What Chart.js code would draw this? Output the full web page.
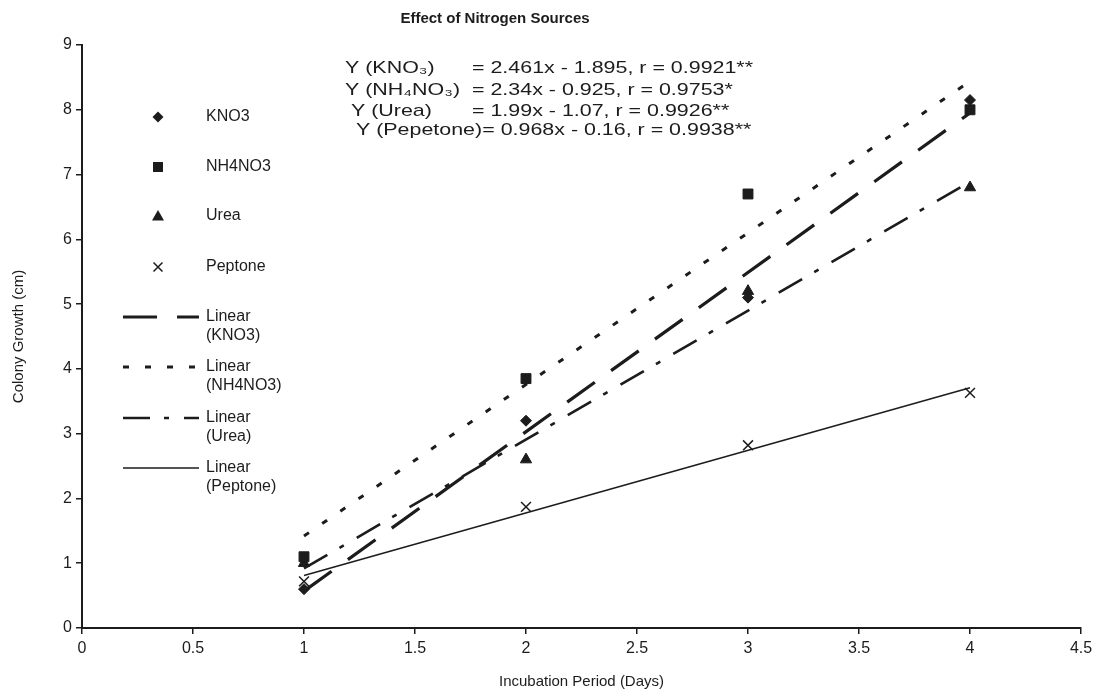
<!DOCTYPE html>
<html lang="en">
<head>
<meta charset="UTF-8">
<title>Effect of Nitrogen Sources</title>
<script src="https://cdn.jsdelivr.net/npm/chart.js"></script>
<style>
    body { margin: 0; background: #fff; }
    .chart-box { width: 1103px; height: 693px; }
</style>
</head>
<body>
<div class="chart-box"><canvas id="growthChart"></canvas></div>
<script>
// measured colony growth (cm) per incubation day
const days = [1, 2, 3, 4];
const kno3 = [0.6, 3.2, 5.1, 8.15];
const nh4no3 = [1.1, 3.85, 6.7, 8.0];
const urea = [1.0, 2.6, 5.2, 6.8];
const peptone = [0.72, 1.87, 2.82, 3.63];

// trendline ends at day 1 and day 4
const trendDays = [1, 4];
const kno3Trend = [0.57, 7.95];
const nh4no3Trend = [1.42, 8.44];
const ureaTrend = [0.92, 6.89];
const peptoneTrend = [0.81, 3.71];

const seriesNames = ['KNO3', 'NH4NO3', 'Urea', 'Peptone'];
const equationLabels = ['Y (KNO\u2083)', 'Y (NH\u2084NO\u2083)', ' Y (Urea)', ' Y (Pepetone)'];
const equationTexts = ['= 2.461x - 1.895, r = 0.9921**', '= 2.34x - 0.925, r = 0.9753*',
    '= 1.99x - 1.07, r = 0.9926**', '= 0.968x - 0.16, r = 0.9938**'];

const FONT = '"Liberation Sans", Arial, sans-serif';
const INK = '#1c1c1c';

const styles = {
    KNO3: { point: 'rectRot', radius: 5.5, dash: [34, 20], width: 3.2 },
    NH4NO3: { point: 'rect', radius: 7, dash: [6, 16], width: 3 },
    Urea: { point: 'triangle', radius: 6.5, dash: [27, 14, 5, 15], width: 2.6 },
    Peptone: { point: 'crossRot', radius: 7, dash: [], width: 1.5 }
};

const pts = (xs, ys) => xs.map((x, i) => ({ x: x, y: ys[i] }));
const valueSets = [kno3, nh4no3, urea, peptone];
const trendSets = [kno3Trend, nh4no3Trend, ureaTrend, peptoneTrend];

const datasets = [];
seriesNames.forEach((name, i) => {
    const s = styles[name];
    datasets.push({
        type: 'scatter',
        label: name,
        data: pts(days, valueSets[i]),
        pointStyle: s.point,
        pointRadius: s.radius,
        pointBorderWidth: name === 'Peptone' ? 1.5 : 1,
        backgroundColor: INK,
        borderColor: INK,
        order: 0
    });
});
seriesNames.forEach((name, i) => {
    const s = styles[name];
    datasets.push({
        type: 'line',
        label: 'Linear (' + name + ')',
        data: pts(trendDays, trendSets[i]),
        borderColor: INK,
        borderWidth: s.width,
        borderDash: s.dash,
        pointRadius: 0,
        fill: false,
        order: 1
    });
});

function drawMarker(ctx, style, x, y) {
    ctx.beginPath();
    if (style === 'rectRot') {
        const r = 5.5;
        ctx.moveTo(x, y - r); ctx.lineTo(x + r, y); ctx.lineTo(x, y + r); ctx.lineTo(x - r, y);
        ctx.closePath(); ctx.fill();
    } else if (style === 'rect') {
        ctx.fillRect(x - 5, y - 5, 10, 10);
    } else if (style === 'triangle') {
        ctx.moveTo(x, y - 6); ctx.lineTo(x + 6, y + 4.5); ctx.lineTo(x - 6, y + 4.5);
        ctx.closePath(); ctx.fill();
    } else {
        const d = 4.5;
        ctx.lineWidth = 1.5;
        ctx.moveTo(x - d, y - d); ctx.lineTo(x + d, y + d);
        ctx.moveTo(x + d, y - d); ctx.lineTo(x - d, y + d);
        ctx.stroke();
    }
}

// the equation block uses a wide face in the original, so stretch it
function wideText(ctx, text, x, y) {
    ctx.save();
    ctx.translate(x, y);
    ctx.scale(1.26, 1);
    ctx.fillText(text, 0, 0);
    ctx.restore();
}

// title, regression equations and the legend block on the left
const notesPlugin = {
    id: 'notes',
    afterDraw(chart) {
        const ctx = chart.ctx;
        ctx.save();
        ctx.fillStyle = INK;
        ctx.strokeStyle = INK;
        ctx.textBaseline = 'middle';

        ctx.font = 'bold 15px ' + FONT;
        ctx.textAlign = 'center';
        ctx.fillText('Effect of Nitrogen Sources', 495, 19);

        ctx.font = '17px ' + FONT;
        ctx.textAlign = 'left';
        const eqRows = [68, 90, 111, 130];
        equationLabels.forEach((lab, i) => {
            if (i === 3) {
                wideText(ctx, lab + equationTexts[i], 350, eqRows[i]);
            } else {
                wideText(ctx, lab, 345, eqRows[i]);
                wideText(ctx, equationTexts[i], 472, eqRows[i]);
            }
        });

        ctx.font = '16px ' + FONT;
        const markerRows = [117, 167, 216, 267];
        seriesNames.forEach((name, i) => {
            drawMarker(ctx, styles[name].point, 158, markerRows[i]);
            ctx.fillText(name, 206, markerRows[i]);
        });

        const lineRows = [317, 367, 418, 468];
        seriesNames.forEach((name, i) => {
            const s = styles[name];
            ctx.beginPath();
            ctx.lineWidth = s.width;
            ctx.setLineDash(s.dash);
            ctx.moveTo(123, lineRows[i]);
            ctx.lineTo(199, lineRows[i]);
            ctx.stroke();
            ctx.setLineDash([]);
            ctx.fillText('Linear', 206, lineRows[i]);
            ctx.fillText('(' + name + ')', 206, lineRows[i] + 19);
        });
        ctx.restore();
    }
};

new Chart(document.getElementById('growthChart'), {
    data: { datasets: datasets },
    options: {
        responsive: true,
        maintainAspectRatio: false,
        animation: false,
        layout: { padding: { top: 45, right: 22, left: 0, bottom: 0 } },
        plugins: {
            legend: { display: false },
            tooltip: { enabled: false }
        },
        scales: {
            x: {
                type: 'linear',
                min: 0,
                max: 4.5,
                ticks: { stepSize: 0.5, color: INK, font: { family: FONT, size: 16 }, padding: 5,
                    callback: v => String(v) },
                grid: { drawOnChartArea: false, drawTicks: true, tickLength: 6, color: INK, lineWidth: 1.5 },
                border: { display: true, color: INK, width: 2 },
                title: { display: true, text: 'Incubation Period (Days)', color: INK,
                    font: { family: FONT, size: 15 }, padding: { top: 6, bottom: 2 } },
                afterFit(scale) { scale.height = 65; }
            },
            y: {
                type: 'linear',
                min: 0,
                max: 9,
                ticks: { stepSize: 1, color: INK, font: { family: FONT, size: 16 }, padding: 4 },
                grid: { drawOnChartArea: false, drawTicks: true, tickLength: 6, color: INK, lineWidth: 1.5 },
                border: { display: true, color: INK, width: 2 },
                title: { display: true, text: 'Colony Growth (cm)', color: INK,
                    font: { family: FONT, size: 15 }, padding: { top: 10, bottom: 0 } },
                afterFit(scale) { scale.width = 82; }
            }
        }
    },
    plugins: [notesPlugin]
});
</script>
</body>
</html>
